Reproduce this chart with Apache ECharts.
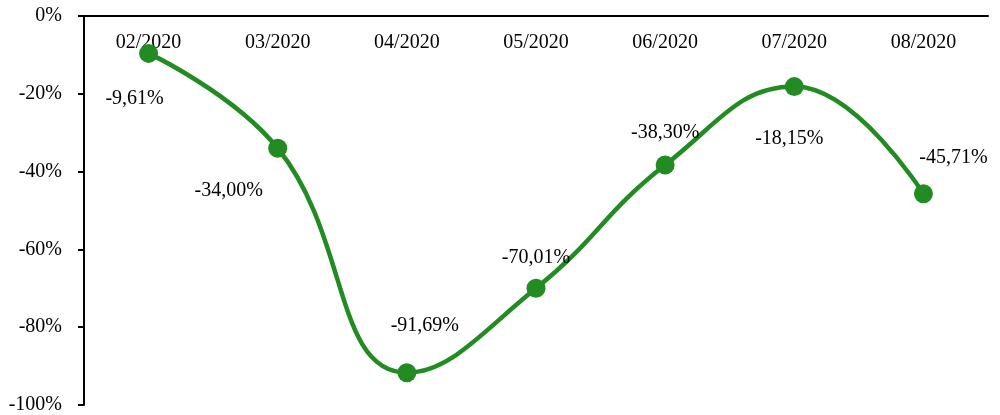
<!DOCTYPE html>
<html><head><meta charset="utf-8">
<script src="https://cdn.jsdelivr.net/npm/echarts@6/dist/echarts.min.js"></script>
<style>html,body{margin:0;padding:0;background:#fff}#c{width:1000px;height:415px}</style>
</head><body><div id="c"></div>
<script>
const categories = ['02/2020','03/2020','04/2020','05/2020','06/2020','07/2020','08/2020'];
const values = [-9.61, -34.00, -91.69, -70.01, -38.30, -18.15, -45.71];
const yTicks = [0, -20, -40, -60, -80, -100];
const labelOffsets = [[-14,45],[-49,42],[18,-47],[0,-31],[0,-32],[-5,52],[30,-36]];

const font = 'Liberation Serif';
const chart = echarts.init(document.getElementById('c'));
chart.setOption({
  animation: false,
  grid: {left: 84, right: 12, top: 16, bottom: 10, containLabel: false},
  xAxis: {
    type: 'category', position: 'top', data: categories, boundaryGap: true,
    axisLine: {lineStyle: {color: '#000', width: 2}},
    axisTick: {inside: true, length: 6, lineStyle: {color: '#000', width: 2}},
    axisLabel: {inside: true, margin: 17, color: '#000', fontFamily: font, fontSize: 20, verticalAlign: 'top'},
    splitLine: {show: false}
  },
  yAxis: {
    type: 'value', min: -100, max: 0, interval: 20,
    axisLine: {show: true, lineStyle: {color: '#000', width: 2}},
    axisTick: {show: true, length: 6, lineStyle: {color: '#000', width: 2}},
    axisLabel: {color: '#000', fontFamily: font, fontSize: 20, margin: 22, padding: [4, 0, 0, 0],
      formatter: v => yTicks.includes(v) ? v + '%' : ''},
    splitLine: {show: false}
  },
  series: [{
    type: 'line', data: values.map((v, i) => ({
      value: v,
      label: {offset: labelOffsets[i]}
    })),
    smooth: 0.45,
    symbol: 'circle', symbolSize: 19,
    lineStyle: {color: '#228B22', width: 4.5},
    itemStyle: {color: '#228B22'},
    label: {show: true, position: 'inside', color: '#000', fontFamily: font, fontSize: 20,
      formatter: p => p.value.toFixed(2).replace('.', ',') + '%'}
  }]
});
</script></body></html>
